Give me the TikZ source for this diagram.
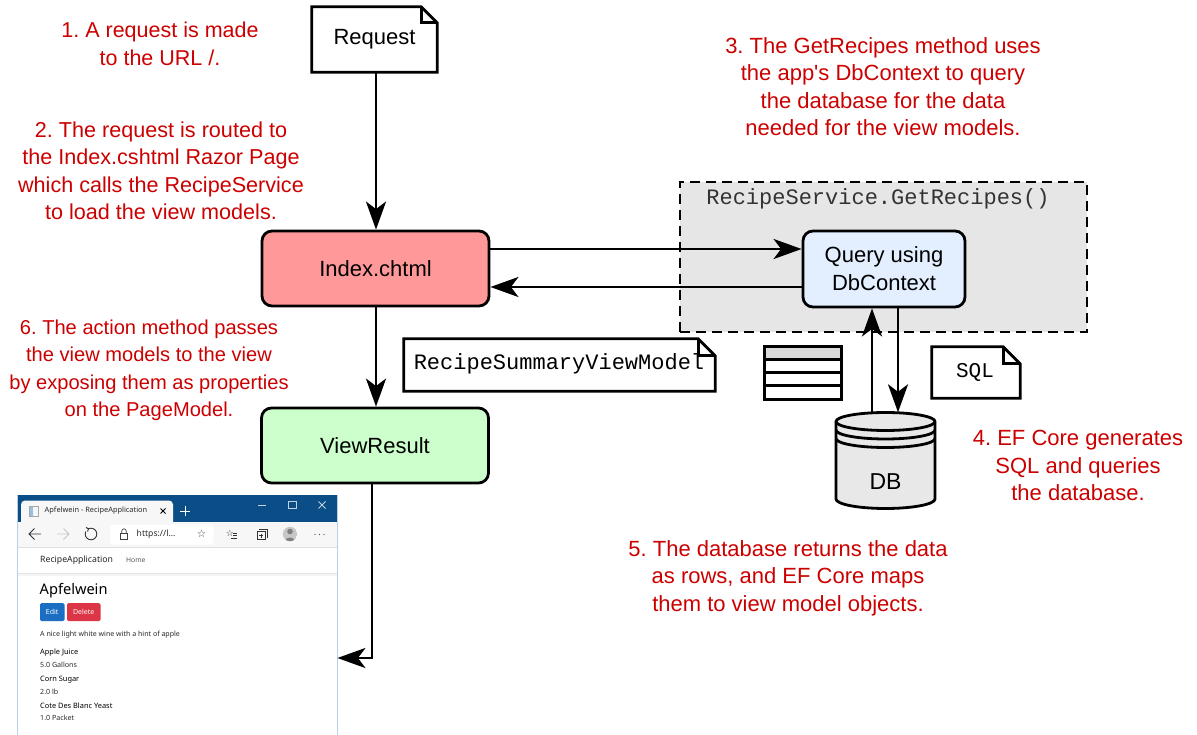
\documentclass[tikz,border=0pt]{standalone}
\usepackage{fontspec}
\setmainfont{Liberation Sans}
\setmonofont{Liberation Mono}
\newfontfamily\uifont{Noto Sans}
\newfontfamily\symfont{DejaVu Sans}
\usetikzlibrary{arrows.meta,calc,shapes.geometric}

\definecolor{notered}{HTML}{CC0000}
\definecolor{indexred}{HTML}{FF9999}
\definecolor{viewgreen}{HTML}{CCFFCC}
\definecolor{queryblue}{HTML}{E3EFFF}
\definecolor{groupgrey}{HTML}{E6E6E6}
\definecolor{dbgrey}{HTML}{E8E8E8}
\definecolor{rowgrey}{HTML}{D9D9D9}
\definecolor{titlebar}{HTML}{0A4D87}
\definecolor{toolbar}{HTML}{F7F7F7}
\definecolor{framecol}{HTML}{BCCEE2}
\definecolor{editblue}{HTML}{1B6EC2}
\definecolor{deletered}{HTML}{DC3545}
\definecolor{uitext}{HTML}{2A2A2A}

% a page with a folded top-right corner around the named node
\newcommand{\foldeddoc}[2]{%
  \draw[line width=2.8pt, fill=white, line join=miter]
    (#1.south west) -- (#1.south east) -- ([yshift=-#2]#1.north east)
    -- ([xshift=-#2]#1.north east) -- (#1.north west) -- cycle;
  \draw[line width=2.8pt, line join=miter]
    ([xshift=-#2]#1.north east) -- ([xshift=-#2,yshift=-#2]#1.north east)
    -- ([yshift=-#2]#1.north east);
}

\begin{document}
\frenchspacing
\begin{tikzpicture}[x=1pt,y=-1pt,
  flow/.style={line width=2.8pt, -{Stealth[length=28pt,width=20pt,inset=7.5pt]}},
  stepbox/.style={draw=black, line width=2.8pt, rounded corners=10pt,
    minimum width=227pt, minimum height=75pt, inner sep=0pt,
    font=\fontsize{22}{28}\selectfont, align=center},
  note/.style={text=notered, font=\fontsize{#1}{27.5}\selectfont,
    align=center, inner sep=0pt},
  note/.default=22,
  codetext/.style={font=\ttfamily\fontsize{22}{26}\selectfont, inner sep=0pt},
  plain/.style={inner sep=0pt},
  ui/.style={font=\uifont\fontsize{#1}{#1}\selectfont, text=uitext, inner sep=0pt, anchor=west},
  uib/.style={font=\uifont\bfseries\fontsize{#1}{#1}\selectfont, text=black, inner sep=0pt, anchor=west},
  icon/.style={line width=0.9pt, draw=black!80},
]
\useasboundingbox (0,0) rectangle (1197,735);

% ---- annotations -------------------------------------------------------
\node[note=21.5] (n1) at (160,44) {1. A request is made\\to the URL /.};
\node[note=21.6] (n2) at (161,171) {2. The request is routed to\\the Index.cshtml Razor Page\\which calls the RecipeService\\to load the view models.};
\node[note] (n3) at (883,86.5) {3. The GetRecipes method uses\\the app\textquotesingle s DbContext to query\\the database for the data\\needed for the view models.};
\node[note] (n4) at (1078,465.5) {4. EF Core generates\\SQL and queries\\the database.};
\node[note] (n5) at (788,578) {5. The database returns the data\\as rows, and EF Core maps\\them to view model objects.};
\node[note=20.1] (n6) at (149,370.5) {6. The action method passes\\the view models to the view\\by exposing them as properties\\on the PageModel.};

% ---- request document ----------------------------------------------------
\node[plain, minimum width=125pt, minimum height=65pt] (req) at (374.5,39.5) {};
\foldeddoc{req}{16pt}
\node[plain, font=\fontsize{22}{26}\selectfont] (reqtext) at (req) {Request};

% ---- service group -----------------------------------------------------
\node[draw=black, line width=2.8pt, dash pattern=on 10pt off 6pt, fill=groupgrey,
  minimum width=407pt, minimum height=150pt, inner sep=0pt] (svc) at (883.5,257) {};
\node[codetext, text=black!80] (svclabel) at (878,199) {RecipeService.GetRecipes()};

% ---- main steps ----------------------------------------------------------
\node[stepbox, fill=indexred] (index) at (375.5,268.5) {Index.chtml};
\node[stepbox, fill=viewgreen] (vr) at (375,445.5) {ViewResult};
\node[stepbox, fill=queryblue, minimum width=162pt, minimum height=76pt] (query) at (884,269) {Query using\\DbContext};

% ---- view model document -------------------------------------------------
\node[plain, minimum width=311pt, minimum height=52pt] (rsvm) at (559.5,365) {};
\foldeddoc{rsvm}{17pt}
\node[codetext] (rsvmtext) at (559,364) {RecipeSummaryViewModel};

% ---- rows icon -----------------------------------------------------------
\node[plain, minimum width=76pt, minimum height=52pt] (rows) at (803,373) {};
\fill[rowgrey] (rows.north west) rectangle ($(rows.north east)+(0,13)$);
\draw[line width=2.8pt] (rows.north west) rectangle (rows.south east);
\foreach \dy in {13,26,39}
  \draw[line width=2.8pt] ($(rows.north west)+(0,\dy)$) -- ($(rows.north east)+(0,\dy)$);

% ---- SQL document --------------------------------------------------------
\node[plain, minimum width=88pt, minimum height=51pt] (sql) at (976,372.5) {};
\foldeddoc{sql}{17pt}
\node[plain, font=\ttfamily\fontsize{21}{24}\selectfont] (sqltext) at (975,372) {SQL};

% ---- database ------------------------------------------------------------
\node[plain, minimum width=99pt, minimum height=96pt] (db) at (885.5,460.5) {};
\draw[line width=2.8pt, fill=dbgrey]
  (836,421.5) -- (836,499) arc[start angle=180,end angle=360,x radius=49.5pt,y radius=9.5pt]
  -- (935,421.5) arc[start angle=0,end angle=180,x radius=49.5pt,y radius=9pt] -- cycle;
\foreach \cy in {421.5,430,438.5}
  \draw[line width=2.8pt] (836,\cy) arc[start angle=180,end angle=360,x radius=49.5pt,y radius=9pt];
\node[plain, font=\fontsize{23}{26}\selectfont] (dbtext) at (885.5,482) {DB};

% ---- connectors ------------------------------------------------------------
\coordinate (colA) at (376,0);
\coordinate (colB) at (372,0);
\coordinate (rowA) at (0,249);
\coordinate (rowB) at (0,287);
\coordinate (rowC) at (0,658);
\coordinate (dnX) at (898,0);
\coordinate (upX) at (872,0);

\draw[flow] (req.south -| colA) -- (index.north -| colA);
\draw[flow] (index.east |- rowA) -- (query.west |- rowA);
\draw[flow] (query.west |- rowB) -- (index.east |- rowB);
\draw[flow] (index.south -| colA) -- (vr.north -| colA);
\draw[flow] (dnX |- query.south) -- (dnX |- db.north);
\draw[flow] (upX |- db.north) -- (upX |- query.south);

% ---- browser window ------------------------------------------------------
\node[plain, minimum width=320pt, minimum height=240pt, anchor=north west] (browser) at (17,495) {};
\fill[white] (17,495) rectangle (337,735);
\fill[titlebar] (17,495) rectangle (337,522);
\fill[toolbar, rounded corners=4pt] (21,527) -- (21,500.5) -- (173,500.5) -- (173,527) -- cycle;
\fill[toolbar] (17,522) rectangle (337,547);
\draw[framecol, line width=1pt] (17,735) -- (17,495) (337,495) -- (337,735);

% tab
\fill[editblue!45] (29.5,506) rectangle (33,516);
\draw[black!35, line width=0.6pt] (29.5,506) rectangle (38,516);
\node[ui=7.4] (tabtitle) at (44.5,511) {Apfelwein - RecipeApplication};
\draw[line width=0.9pt] (160.5,508.5) -- (165.5,513.5) (160.5,513.5) -- (165.5,508.5);
\draw[white, line width=0.9pt] (180,511) -- (190,511) (185,506) -- (185,516);
% window controls
\draw[white!75!titlebar, line width=0.8pt] (258,505) -- (266,505);
\draw[white!75!titlebar, line width=0.8pt] (288.5,501.5) rectangle (296,508.5);
\draw[white!75!titlebar, line width=0.8pt] (318.5,501.5) -- (325.5,508.5) (318.5,508.5) -- (325.5,501.5);

% navigation buttons
\draw[icon] (29,534) -- (41,534) (34.5,528.5) -- (29,534) -- (34.5,539.5);
\draw[icon, draw=black!22] (57,534) -- (69,534) (63.5,528.5) -- (69,534) -- (63.5,539.5);
\draw[icon] (91,534) ++(115:5.8pt) arc[start angle=115,end angle=-205,radius=5.8pt];
\draw[icon] (86,527.5) -- (88.6,528.8) -- (87.5,531.5);

% address bar
\fill[white, rounded corners=3pt] (110,524.5) rectangle (213.5,544.5);
\draw[line width=0.7pt, black!75] (120.5,533.5) rectangle (127.5,539.5);
\draw[line width=0.7pt, black!75] (121.8,533.5) -- (121.8,531) arc[start angle=180,end angle=0,radius=2.2pt] -- (126.2,533.5);
\node[ui=8.6] (url) at (136.5,534.5) {https://l...};
\node[plain, font=\symfont\fontsize{10.5}{10.5}\selectfont, text=black!70] (star) at (201.5,534) {☆};

% toolbar icons
\node[plain, font=\symfont\fontsize{9}{9}\selectfont, text=black!80] (favstar) at (230,533.5) {☆};
\draw[line width=0.8pt, black!80] (233,533) -- (237,533) (233,535.5) -- (237,535.5) (231,538) -- (237,538);
\draw[line width=0.8pt, black!80] (257,531.5) rectangle (265,539.5);
\draw[line width=0.8pt, black!80] (259,529.5) -- (267,529.5) -- (267,537.5);
\draw[line width=0.8pt, black!80] (261,533.5) -- (261,537.5) (259,535.5) -- (263,535.5);
\begin{scope}
  \clip (290,534) circle (7.2pt);
  \fill[black!22] (290,534) circle (7.2pt);
  \fill[black!50] (290,531.5) circle (2.8pt);
  \fill[black!50] (290,541.5) ellipse (5.2pt and 4pt);
\end{scope}
\foreach \dx in {315,319.5,324} \fill[black!70] (\dx,534.5) circle (0.7pt);

% site navigation
\draw[black!12, line width=0.8pt] (17.5,547) -- (336.5,547);
\node[ui=8.7, text=black!85] (brand) at (40,560.5) {RecipeApplication};
\node[ui=6.8, text=black!65] (home) at (126,560.5) {Home};
\fill[black!4] (17.5,573) rectangle (336.5,576);
\draw[black!10, line width=0.6pt] (17.5,573) -- (336.5,573);

% page content
\node[ui=14.6, text=black] (title) at (39.5,591) {Apfelwein};
\fill[editblue, rounded corners=1.5pt] (40,603) rectangle (64.5,621);
\node[plain, font=\uifont\fontsize{7}{7}\selectfont, text=white] (edit) at (52.2,612) {Edit};
\fill[deletered, rounded corners=1.5pt] (67,603) rectangle (100.5,621);
\node[plain, font=\uifont\fontsize{7}{7}\selectfont, text=white] (delete) at (83.7,612) {Delete};
\node[ui=7.05] (desc) at (40,635) {A nice light white wine with a hint of apple};
\node[uib=7.4] (ing1) at (40,653) {Apple Juice};
\node[ui=7.1] (amt1) at (40,664.5) {5.0 Gallons};
\node[uib=7.4] (ing2) at (40,680) {Corn Sugar};
\node[ui=7.1] (amt2) at (40,691.5) {2.0 lb};
\node[uib=7.4] (ing3) at (40,706) {Cote Des Blanc Yeast};
\node[ui=7.1] (amt3) at (40,717.5) {1.0 Packet};

% result arrow into the browser
\draw[flow] (vr.south -| colB) |- (browser.east |- rowC);
\end{tikzpicture}
\end{document}
